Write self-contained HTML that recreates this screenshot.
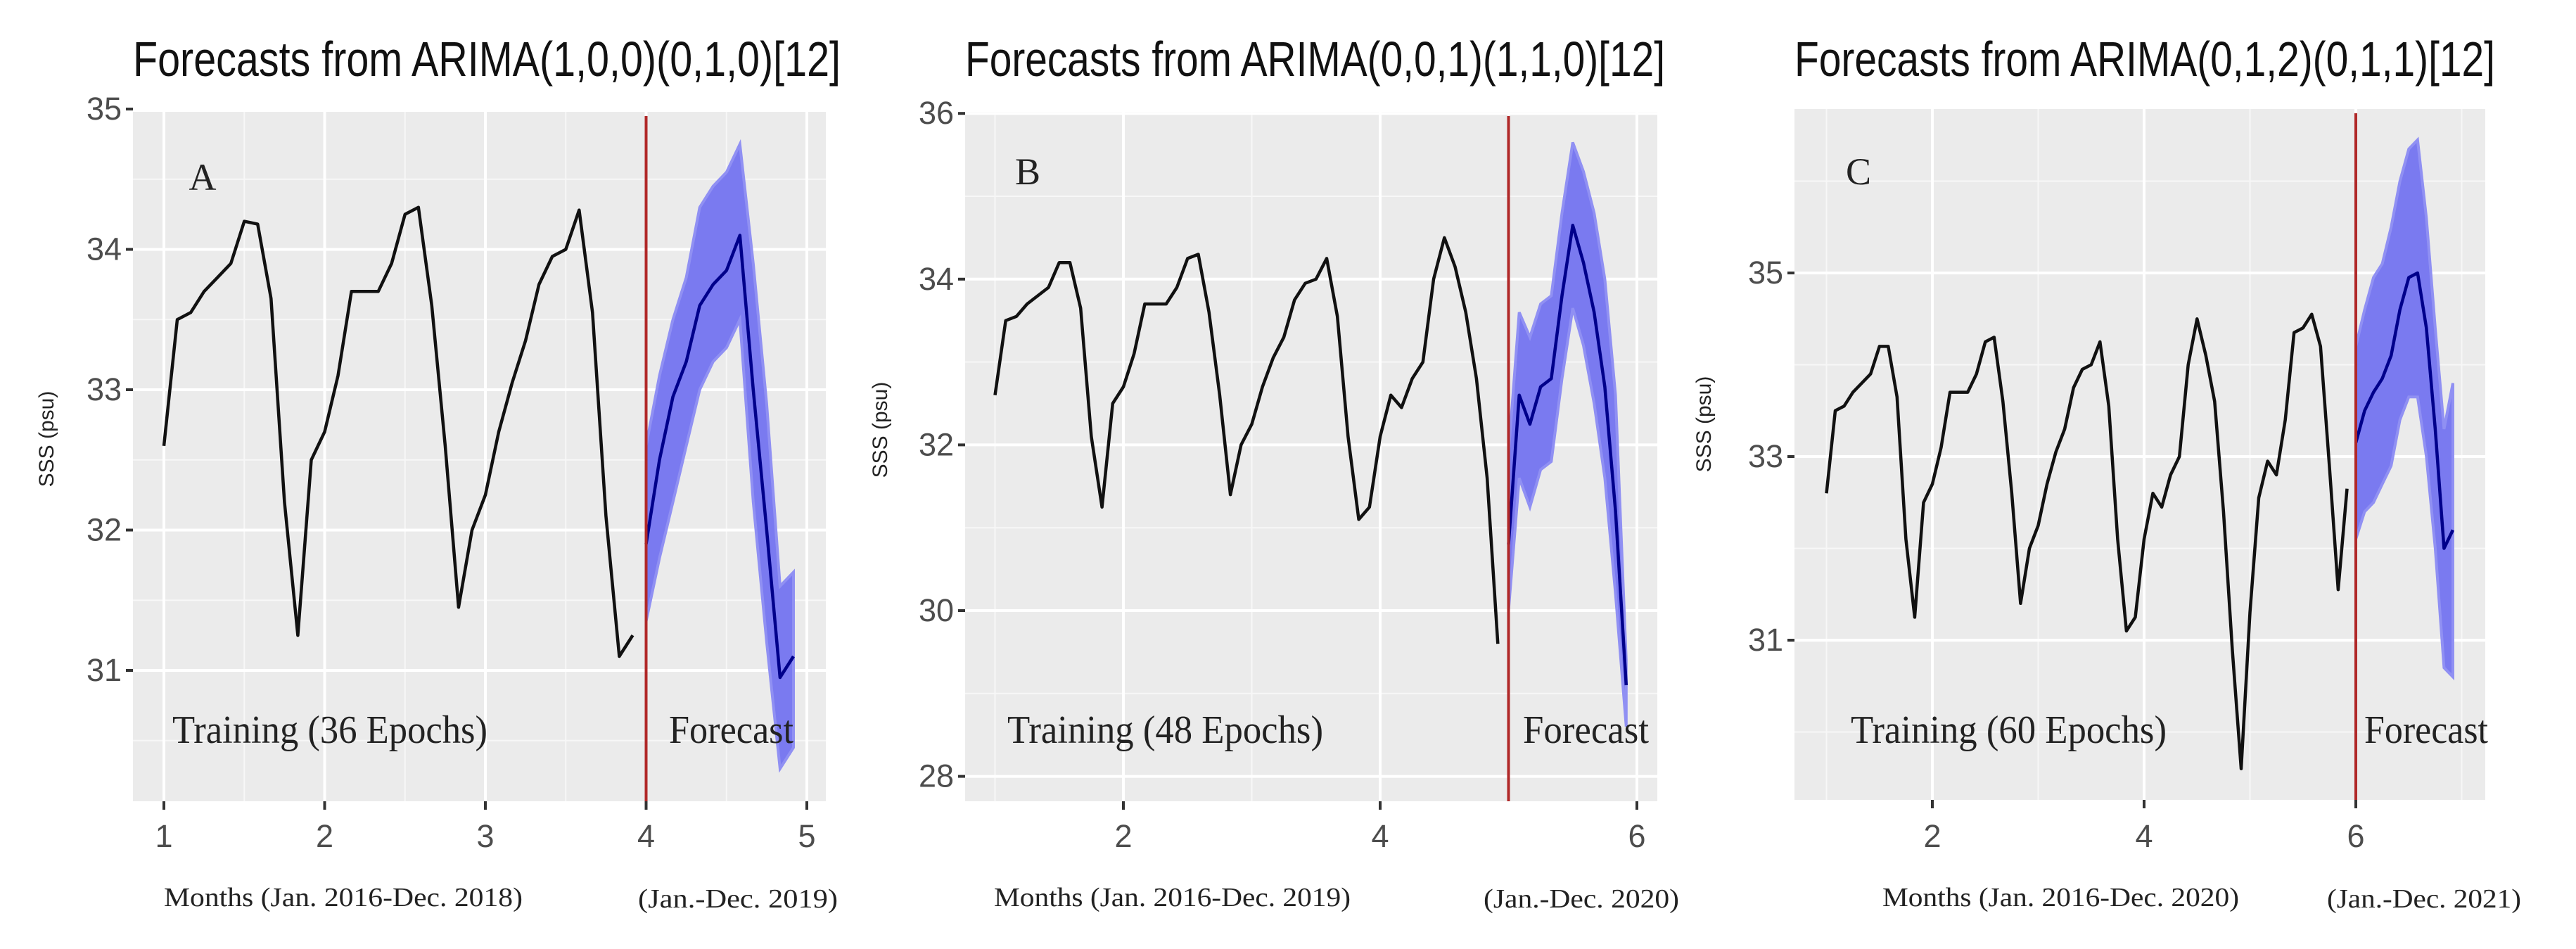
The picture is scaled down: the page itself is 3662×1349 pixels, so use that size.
<!DOCTYPE html>
<html><head><meta charset="utf-8"><style>
html,body{margin:0;padding:0;background:#fff;}
svg{display:block;}
</style></head><body>
<svg id="fig" width="3662" height="1349" viewBox="0 0 3662 1349" xmlns="http://www.w3.org/2000/svg"></svg>
<script>
// ---------- Data ----------
const obsA = [32.6,33.5,33.55,33.7,33.8,33.9,34.2,34.18,33.65,32.2,31.25,32.5,
  32.7,33.1,33.7,33.7,33.7,33.9,34.25,34.3,33.6,32.6,31.45,32.0,
  32.25,32.7,33.05,33.35,33.75,33.95,34.0,34.28,33.55,32.1,31.1,31.25];
const fcA = [31.9,32.5,32.95,33.2,33.6,33.75,33.85,34.1,33.0,32.0,30.95,31.1];
const hiA = [32.6,33.1,33.5,33.8,34.3,34.45,34.55,34.75,33.9,32.9,31.6,31.7];
const loA = [31.35,31.8,32.2,32.6,33.0,33.2,33.3,33.5,32.2,31.2,30.3,30.45];

const obsB = [32.6,33.5,33.55,33.7,33.8,33.9,34.2,34.2,33.65,32.1,31.25,32.5,
  32.7,33.1,33.7,33.7,33.7,33.9,34.25,34.3,33.6,32.6,31.4,32.0,
  32.25,32.7,33.05,33.3,33.75,33.95,34.0,34.25,33.55,32.1,31.1,31.25,
  32.1,32.6,32.45,32.8,33.0,34.0,34.5,34.15,33.6,32.8,31.6,29.6];
const fcB = [30.8,32.6,32.25,32.7,32.8,33.8,34.65,34.2,33.6,32.7,31.2,29.1];
const hiB = [31.9,33.6,33.3,33.7,33.8,34.8,35.65,35.3,34.8,34.0,32.6,29.4];
const loB = [30.0,31.6,31.25,31.7,31.8,32.8,33.65,33.2,32.5,31.6,30.2,28.6];

const obsC = [32.6,33.5,33.55,33.7,33.8,33.9,34.2,34.2,33.65,32.1,31.25,32.5,
  32.7,33.1,33.7,33.7,33.7,33.9,34.25,34.3,33.6,32.6,31.4,32.0,
  32.25,32.7,33.05,33.3,33.75,33.95,34.0,34.25,33.55,32.1,31.1,31.25,
  32.1,32.6,32.45,32.8,33.0,34.0,34.5,34.1,33.6,32.4,30.9,29.6,
  31.3,32.55,32.95,32.8,33.4,34.35,34.4,34.55,34.2,32.9,31.55,32.65];
const fcC = [33.15,33.5,33.7,33.85,34.1,34.6,34.95,35.0,34.4,33.3,32.0,32.2];
const hiC = [34.2,34.6,34.95,35.1,35.5,36.0,36.35,36.45,35.6,34.4,33.3,33.8];
const loC = [32.1,32.4,32.5,32.7,32.9,33.4,33.65,33.65,33.0,32.0,30.7,30.6];

const yTicksA = [31,32,33,34,35];
const yTicksB = [28,30,32,34,36];
const yTicksC = [31,33,35];
const xTicksA = [1,2,3,4,5];
const xTicksB = [2,4,6];
const xTicksC = [2,4,6];

// ---------- Rendering ----------
const NS = "http://www.w3.org/2000/svg";
const svg = document.getElementById('fig');
function mk(tag, attrs, parent){
  const e = document.createElementNS(NS, tag);
  for (const k in attrs) e.setAttribute(k, attrs[k]);
  (parent||svg).appendChild(e);
  return e;
}

function panel(cfg){
  const g = mk('g', {});
  
  
  const L=cfg.left, R=cfg.right, T=cfg.top, B=cfg.bottom;
  const sx = v => cfg.x0px + (v - cfg.x0) * cfg.xUnit;
  const sy = v => cfg.y0px - (v - cfg.y0) * cfg.yUnit;
  const xmin = cfg.x0 + (L - cfg.x0px)/cfg.xUnit, xmax = cfg.x0 + (R - cfg.x0px)/cfg.xUnit;
  const ymax = cfg.y0 + (cfg.y0px - T)/cfg.yUnit, ymin = cfg.y0 + (cfg.y0px - B)/cfg.yUnit;

  const bg = mk('rect', {x:L, y:T, width:R-L, height:B-T, fill:'#ebebeb'}, g);
  
  

  const ystep = cfg.yTicks[1]-cfg.yTicks[0], xstep = cfg.xTicks[1]-cfg.xTicks[0];
  for (let v = cfg.yTicks[0]-ystep*1.5; v <= ymax; v += ystep){
    if (v < ymin) continue;
    const ln = mk('line', {x1:L, x2:R, y1:sy(v), y2:sy(v), stroke:'#f7f7f7', 'stroke-width':2}, g);
    
    
  }
  for (let v = cfg.xTicks[0]-xstep*1.5; v <= xmax; v += xstep){
    if (v < xmin) continue;
    const ln = mk('line', {x1:sx(v), x2:sx(v), y1:T, y2:B, stroke:'#f7f7f7', 'stroke-width':2}, g);
    
    
  }
  cfg.yTicks.forEach(v => {
    const y = sy(v);
    const ln = mk('line', {x1:L, x2:R, y1:y, y2:y, stroke:'#ffffff', 'stroke-width':4}, g);
    
    
    const tk = mk('line', {x1:L-10, x2:L, y1:y, y2:y, stroke:'#333', 'stroke-width':4}, g);
    
    
    const t = mk('text', {x:L-16, y:y+15, 'text-anchor':'end', 'font-size':45, fill:'#4d4d4d', 'font-family':'Liberation Sans, sans-serif'}, g);
    t.textContent = v;
    
    
  });
  cfg.xTicks.forEach(v => {
    const x = sx(v);
    const ln = mk('line', {x1:x, x2:x, y1:T, y2:B, stroke:'#ffffff', 'stroke-width':4}, g);
    
    
    const tk = mk('line', {x1:x, x2:x, y1:B, y2:B+12, stroke:'#333', 'stroke-width':4}, g);
    
    
    const t = mk('text', {x:x, y:1204, 'text-anchor':'middle', 'font-size':45, fill:'#4d4d4d', 'font-family':'Liberation Sans, sans-serif'}, g);
    t.textContent = v;
    
    
  });

  const fx0 = cfg.split;
  let d = '';
  cfg.hi.forEach((v,i)=>{ d += (i?'L':'M') + sx(fx0 + i/12).toFixed(1) + ',' + sy(v).toFixed(1); });
  for (let i = cfg.lo.length-1; i >= 0; i--) d += 'L' + sx(fx0 + i/12).toFixed(1) + ',' + sy(cfg.lo[i]).toFixed(1);
  d += 'Z';
  const band = mk('path', {d:d, fill:'#7a7af0', stroke:'#9090f3', 'stroke-width':4}, g);
  
  

  const op = cfg.obs.map((v,i)=> sx(1 + i/12).toFixed(1) + ',' + sy(v).toFixed(1)).join(' ');
  const obs = mk('polyline', {points:op, fill:'none', stroke:'#111', 'stroke-width':4.5, 'stroke-linejoin':'round'}, g);
  
  

  const fp = cfg.fc.map((v,i)=> sx(fx0 + i/12).toFixed(1) + ',' + sy(v).toFixed(1)).join(' ');
  const fl = mk('polyline', {points:fp, fill:'none', stroke:'#00008b', 'stroke-width':4.5, 'stroke-linejoin':'round'}, g);
  
  

  const rl = mk('line', {x1:sx(fx0), x2:sx(fx0), y1:T+6, y2:B, stroke:'#b02828', 'stroke-width':4}, g);
  
  

  const tt = mk('text', {x:L, y:108, 'font-size':70, fill:'#111', 'font-family':'Liberation Sans, sans-serif', textLength:cfg.titleW, lengthAdjust:'spacingAndGlyphs'}, g);
  tt.textContent = cfg.title;
  
  

  const yl = mk('text', {x:0, y:0, 'font-size':30, fill:'#222', 'font-family':'Liberation Sans, sans-serif', 'text-anchor':'middle', transform:'translate(' + cfg.ylabX + ',' + cfg.ylabY + ') rotate(-90)'}, g);
  yl.textContent = 'SSS (psu)';
  
  

  const serif = 'Liberation Serif, serif';
  const lt = mk('text', {x:cfg.letterX, y:cfg.letterY, 'font-size':54, fill:'#222', 'font-family':serif, 'text-anchor':'middle'}, g);
  lt.textContent = cfg.id;
  
  

  const tr = mk('text', {x:cfg.trX, y:1056, 'font-size':56, fill:'#222', 'font-family':serif, textLength:cfg.trW, lengthAdjust:'spacingAndGlyphs'}, g);
  tr.textContent = cfg.trText;
  
  

  const fa = mk('text', {x:cfg.fcX, y:1056, 'font-size':56, fill:'#222', 'font-family':serif, textLength:cfg.fcW, lengthAdjust:'spacingAndGlyphs'}, g);
  fa.textContent = 'Forecast';
  
  

  const mo = mk('text', {x:cfg.moX, y:1288, 'font-size':38, fill:'#222', 'font-family':serif, textLength:cfg.moW, lengthAdjust:'spacingAndGlyphs'}, g);
  mo.textContent = cfg.moText;
  
  

  const fy = mk('text', {x:cfg.fyX, y:1290, 'font-size':38, fill:'#222', 'font-family':serif, textLength:cfg.fyW, lengthAdjust:'spacingAndGlyphs'}, g);
  fy.textContent = cfg.fyText;
  
  
}

panel({id:'A', left:189, right:1174, top:159, bottom:1139,
  x0:1, x0px:233, xUnit:228.5, y0:31, y0px:953, yUnit:199.5,
  yTicks:yTicksA, xTicks:xTicksA, obs:obsA, fc:fcA, hi:hiA, lo:loA, split:4,
  title:'Forecasts from ARIMA(1,0,0)(0,1,0)[12]', titleW:1006,
  ylabX:76, ylabY:624, letterX:288, letterY:270,
  trText:'Training (36 Epochs)', trX:245, trW:448, fcX:951, fcW:177,
  moText:'Months (Jan. 2016-Dec. 2018)', moX:233, moW:510, fyText:'(Jan.-Dec. 2019)', fyX:907, fyW:284});

panel({id:'B', left:1372, right:2356, top:159, bottom:1139,
  x0:2, x0px:1597, xUnit:182.5, y0:30, y0px:868, yUnit:117.8,
  yTicks:yTicksB, xTicks:xTicksB, obs:obsB, fc:fcB, hi:hiB, lo:loB, split:5,
  title:'Forecasts from ARIMA(0,0,1)(1,1,0)[12]', titleW:995,
  ylabX:1261, ylabY:611, letterX:1461, letterY:262,
  trText:'Training (48 Epochs)', trX:1432, trW:449, fcX:2165, fcW:179,
  moText:'Months (Jan. 2016-Dec. 2019)', moX:1413, moW:507, fyText:'(Jan.-Dec. 2020)', fyX:2109, fyW:278});

panel({id:'C', left:2551, right:3533, top:155, bottom:1137,
  x0:2, x0px:2747, xUnit:150.5, y0:31, y0px:910, yUnit:130.5,
  yTicks:yTicksC, xTicks:xTicksC, obs:obsC, fc:fcC, hi:hiC, lo:loC, split:6,
  title:'Forecasts from ARIMA(0,1,2)(0,1,1)[12]', titleW:996,
  ylabX:2432, ylabY:603, letterX:2642, letterY:262,
  trText:'Training (60 Epochs)', trX:2631, trW:449, fcX:3361, fcW:176,
  moText:'Months (Jan. 2016-Dec. 2020)', moX:2676, moW:507, fyText:'(Jan.-Dec. 2021)', fyX:3308, fyW:276});
</script>
</body></html>
